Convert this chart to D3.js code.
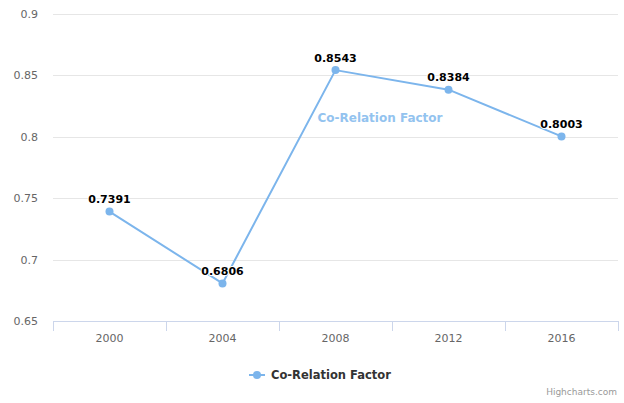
<!DOCTYPE html>
<html><head><meta charset="utf-8">
<script src="https://cdn.jsdelivr.net/npm/d3@7"></script>
<style>body{margin:0;background:#fff;} text{font-family:"DejaVu Sans",Verdana,sans-serif;}</style>
</head><body>
<svg id="c" width="624" height="403"></svg>
<script>
const categories = ["2000","2004","2008","2012","2016"];
const values = [0.7391, 0.6806, 0.8543, 0.8384, 0.8003];
const yTicks = [0.65, 0.7, 0.75, 0.8, 0.85, 0.9];
const seriesName = "Co-Relation Factor";
const color = "#7cb5ec";

const svg = d3.select("#c");
const L = 53, R = 618, T = 14, B = 321;
const x = d3.scaleBand().domain(categories).range([L, R]);
const y = d3.scaleLinear().domain([0.65, 0.9]).range([B, T]);

// gridlines
svg.append("g").selectAll("line").data(yTicks.slice(1)).join("line")
  .attr("x1", L).attr("x2", R).attr("y1", d => Math.round(y(d)) + 0.5).attr("y2", d => Math.round(y(d)) + 0.5)
  .attr("stroke", "#e6e6e6").attr("stroke-width", 1);

// y axis labels
const yAxis = d3.axisLeft(y).tickValues(yTicks).tickSize(0).tickPadding(0).tickFormat(d => String(+d.toFixed(2)));
const gy = svg.append("g").attr("transform", `translate(${L - 15},0)`).call(yAxis);
gy.select(".domain").remove();
gy.selectAll("text").attr("fill", "#666").style("font-size", "11px").attr("dy", "0.32em");

// x axis
const xAxis = d3.axisBottom(x).tickSize(0).tickPadding(0);
const gx = svg.append("g").attr("transform", `translate(0,${B})`).call(xAxis);
gx.select(".domain").attr("stroke", "#ccd6eb").attr("d", `M${L},0.5H${R}`);
gx.selectAll("text").attr("fill", "#666").style("font-size", "11px").attr("y", 17).attr("dy", "0.32em");
// category tick marks
const edges = categories.map(c => x(c)).concat([R]);
gx.append("g").selectAll("line").data(edges).join("line")
  .attr("x1", d => Math.round(d) + 0.5).attr("x2", d => Math.round(d) + 0.5).attr("y1", 0).attr("y2", 10)
  .attr("stroke", "#ccd6eb");

const cx = c => x(c) + x.bandwidth() / 2;
const pts = categories.map((c, i) => [cx(c), y(values[i])]);

svg.append("path").attr("d", d3.line()(pts)).attr("fill", "none")
  .attr("stroke", color).attr("stroke-width", 2).attr("stroke-linejoin", "round");

svg.append("g").selectAll("circle").data(pts).join("circle")
  .attr("cx", d => d[0]).attr("cy", d => d[1]).attr("r", 4).attr("fill", color);

// data labels
svg.append("g").selectAll("text").data(categories).join("text")
  .attr("x", c => cx(c)).attr("y", (c, i) => y(values[i]) - 12).attr("dy", "0.32em")
  .attr("text-anchor", "middle").style("font-size", "11px").style("font-weight", "bold")
  .attr("fill", "#000").attr("stroke", "#fff").attr("stroke-width", 2).attr("paint-order", "stroke")
  .attr("stroke-linejoin", "round")
  .text((c, i) => values[i].toFixed(4));

// series label
svg.append("text").attr("x", (cx("2008") + cx("2012")) / 2 - 12).attr("y", 118).attr("dy", "0.32em")
  .attr("text-anchor", "middle").style("font-size", "12px").style("font-weight", "bold")
  .attr("fill", "#93c3ef").text(seriesName);

// legend
const lg = svg.append("g").attr("transform", "translate(249,375)");
lg.append("line").attr("x1", 0).attr("x2", 16).attr("y1", 0).attr("y2", 0).attr("stroke", color).attr("stroke-width", 2);
lg.append("circle").attr("cx", 8).attr("cy", 0).attr("r", 4).attr("fill", color);
lg.append("text").attr("x", 22).attr("y", 0).attr("dy", "0.35em").style("font-size", "11.5px").style("font-weight", "bold")
  .attr("fill", "#333").text(seriesName);

// credits
svg.append("text").attr("x", 617).attr("y", 395).attr("text-anchor", "end").style("font-size", "9px")
  .attr("fill", "#999").text("Highcharts.com");
</script>
</body></html>
